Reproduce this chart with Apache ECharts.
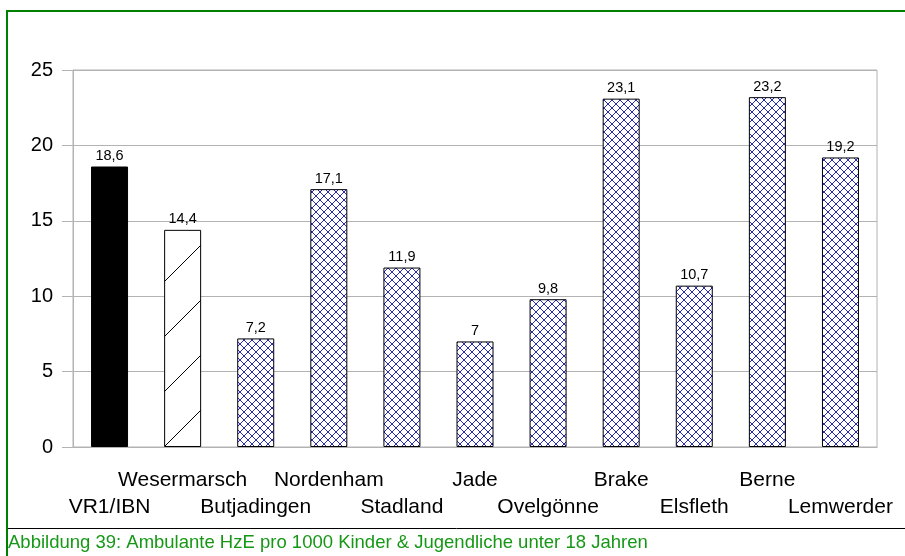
<!DOCTYPE html>
<html>
<head>
<meta charset="utf-8">
<script src="https://cdn.jsdelivr.net/npm/echarts@6/dist/echarts.min.js"></script>
<style>
  html, body { margin: 0; padding: 0; background: #fff; }
  #chart { width: 905px; height: 556px; }
</style>
</head>
<body>
<div id="chart"></div>
<script>
// Regions and rates (per 1000 children & adolescents under 18)
const categories = ['VR1/IBN', 'Wesermarsch', 'Butjadingen', 'Nordenham', 'Stadland', 'Jade',
                    'Ovelgönne', 'Brake', 'Elsfleth', 'Berne', 'Lemwerder'];
const rates = [18.6, 14.4, 7.2, 17.1, 11.9, 7.0, 9.8, 23.1, 10.7, 23.2, 19.2];
const yTicks = [0, 5, 10, 15, 20, 25];
const captionText = 'Abbildung 39: Ambulante HzE pro 1000 Kinder & Jugendliche unter 18 Jahren';

const FONT = '"Liberation Sans", Arial, sans-serif';
const GRID_GREY = '#b3b3b3';

// Navy cross-hatch fill for the municipalities
function crossHatch() {
  const c = document.createElement('canvas');
  c.width = 8; c.height = 8;
  const g = c.getContext('2d');
  g.fillStyle = '#fff';
  g.fillRect(0, 0, 8, 8);
  g.strokeStyle = '#2a2ab8';
  g.lineWidth = 1;
  g.beginPath();
  g.moveTo(-1, -1); g.lineTo(9, 9);
  g.moveTo(-1, 9); g.lineTo(9, -1);
  g.stroke();
  return c;
}

// Sparse single diagonal hatch for the district bar
function diagonalHatch() {
  const s = 55;
  const c = document.createElement('canvas');
  c.width = s; c.height = s;
  const g = c.getContext('2d');
  g.fillStyle = '#fff';
  g.fillRect(0, 0, s, s);
  g.strokeStyle = '#000';
  g.lineWidth = 1;
  g.beginPath();
  for (let k = -1; k <= 2; k++) {
    const t = 6 + k * s;           // line: x + y = t
    g.moveTo(t + s, -s);
    g.lineTo(-s, t + s);
  }
  g.stroke();
  return c;
}

const crossFill = { image: crossHatch(), repeat: 'repeat' };
const diagFill = { image: diagonalHatch(), repeat: 'repeat' };

const barData = rates.map((v, i) => ({
  value: v,
  itemStyle: {
    color: i === 0 ? '#000' : (i === 1 ? diagFill : crossFill),
    borderColor: '#000',
    borderWidth: 1
  }
}));

const chart = echarts.init(document.getElementById('chart'), null, { renderer: 'canvas' });

chart.setOption({
  animation: false,
  backgroundColor: '#fff',
  grid: {
    left: 73, right: 28, top: 70, bottom: 109,
    show: true, borderColor: GRID_GREY, borderWidth: 1, backgroundColor: 'transparent'
  },
  xAxis: {
    type: 'category',
    data: categories,
    axisLine: { lineStyle: { color: GRID_GREY, width: 1 } },
    axisTick: { alignWithLabel: true, length: 10, lineStyle: { color: GRID_GREY } },
    axisLabel: {
      interval: 0,
      margin: 20,
      color: '#000',
      fontFamily: FONT,
      fontSize: 21,
      lineHeight: 27,
      formatter: (name, idx) => (idx % 2 === 1 ? name : '\n' + name)
    },
    splitLine: { show: false }
  },
  yAxis: {
    type: 'value',
    min: yTicks[0],
    max: yTicks[yTicks.length - 1],
    interval: yTicks[1] - yTicks[0],
    axisLine: { show: true, lineStyle: { color: GRID_GREY, width: 1 } },
    axisTick: { show: true, length: 11, lineStyle: { color: GRID_GREY } },
    axisLabel: { margin: 20, color: '#000', fontFamily: FONT, fontSize: 20 },
    splitLine: { lineStyle: { color: GRID_GREY, width: 1 } }
  },
  series: [{
    type: 'bar',
    data: barData,
    barWidth: 37,
    label: {
      show: true,
      position: 'top',
      distance: 3,
      color: '#000',
      fontFamily: FONT,
      fontSize: 14.5,
      formatter: p => String(p.value).replace('.', ',')
    }
  }],
  graphic: [
    // green frame (top and left edges)
    { type: 'line', silent: true, shape: { x1: 7, y1: 11, x2: 905, y2: 11 },
      style: { stroke: '#008000', lineWidth: 2 } },
    { type: 'line', silent: true, shape: { x1: 7, y1: 10, x2: 7, y2: 556 },
      style: { stroke: '#008000', lineWidth: 2 } },
    // rule above the caption
    { type: 'line', silent: true, shape: { x1: 8, y1: 528.5, x2: 905, y2: 528.5 },
      style: { stroke: '#000', lineWidth: 1 } },
    { type: 'text', silent: true, left: 8, top: 533,
      style: { text: captionText, fill: '#169816', font: '18.5px ' + FONT } }
  ]
});
</script>
</body>
</html>
